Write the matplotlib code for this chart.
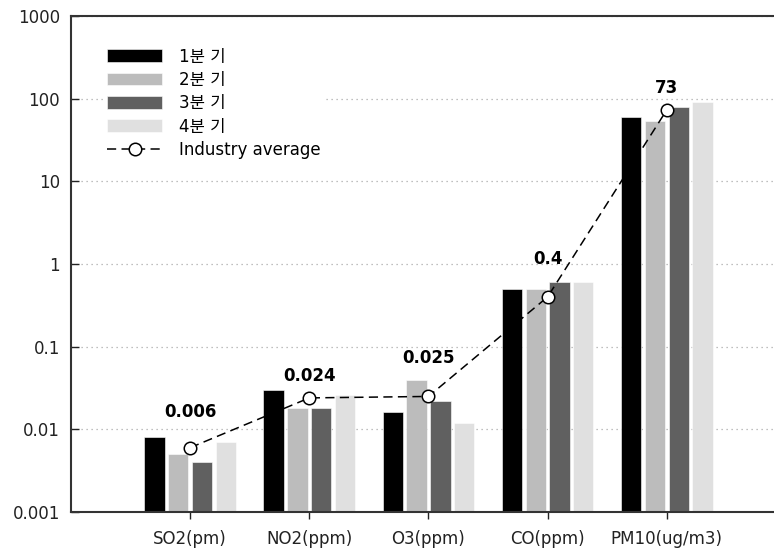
import matplotlib
matplotlib.use("Agg")
import matplotlib.pyplot as plt
import numpy as np
from matplotlib.ticker import FixedLocator, FixedFormatter, NullLocator

plt.rcParams['font.family'] = ['DejaVu Sans', 'Noto Sans CJK KR']

categories = ["SO2(pm)", "NO2(ppm)", "O3(ppm)", "CO(ppm)", "PM10(ug/m3)"]
q1 = [0.008, 0.030, 0.016, 0.5, 60]
q2 = [0.005, 0.018, 0.040, 0.5, 53]
q3 = [0.004, 0.018, 0.022, 0.6, 80]
q4 = [0.007, 0.026, 0.012, 0.6, 90]
industry_avg = [0.006, 0.024, 0.025, 0.4, 73]
avg_labels = ["0.006", "0.024", "0.025", "0.4", "73"]
series_names = ["1분 기", "2분 기", "3분 기", "4분 기"]
y_ticks = [0.001, 0.01, 0.1, 1, 10, 100, 1000]
y_tick_labels = ["0.001", "0.01", "0.1", "1", "10", "100", "1000"]

colors = ["#000000", "#bcbcbc", "#606060", "#e0e0e0"]
label_offsets = [22, 12, 24, 24, 12]  # baseline offsets in points

fig = plt.figure(figsize=(7.74, 5.52), dpi=100)
ax = fig.add_axes([71 / 774, 40 / 552, 703 / 774, 496 / 552])

x = np.arange(len(categories))
pitch = 0.2
width = 0.17
handles = []
for i, (vals, name, c) in enumerate(zip([q1, q2, q3, q4], series_names, colors)):
    b = ax.bar(x + (i - 1.5) * pitch, vals, width=width, color=c, label=name,
               edgecolor="white", linewidth=0.4, zorder=2)
    handles.append(b)

line, = ax.plot(x, industry_avg, linestyle=(0, (6, 3.5)), color="black",
                linewidth=1.1, marker="o", markersize=9,
                markerfacecolor="white", markeredgecolor="black",
                markeredgewidth=1.1, label="Industry average", zorder=3)
handles.append(line)

for xi, v, lab, off in zip(x, industry_avg, avg_labels, label_offsets):
    ax.annotate(lab, (xi, v), xytext=(0, off), textcoords="offset points",
                ha="center", va="baseline", fontsize=12, fontweight="bold")

ax.set_yscale("log")
ax.set_ylim(0.001, 1000)
ax.set_xlim(-1, 4.9)
ax.yaxis.set_major_locator(FixedLocator(y_ticks))
ax.yaxis.set_major_formatter(FixedFormatter(y_tick_labels))
ax.yaxis.set_minor_locator(NullLocator())
ax.set_xticks(x)
ax.set_xticklabels(categories)

ax.tick_params(axis="y", direction="in", length=6, width=1, labelsize=12,
               pad=8, colors="#222222")
ax.tick_params(axis="x", direction="out", length=5, width=1, labelsize=12,
               pad=8, colors="#222222")

ax.grid(axis="y", linestyle=(0, (1, 3)), color="#aaaaaa", linewidth=0.9)
ax.set_axisbelow(True)

for side in ["left", "bottom", "top"]:
    ax.spines[side].set_color("#333333")
    ax.spines[side].set_linewidth(1.5)
ax.spines["right"].set_visible(False)

leg = ax.legend(handles=handles, loc="upper left", bbox_to_anchor=(0.035, 0.96),
                fontsize=12, handlelength=3.3, handleheight=0.8,
                labelspacing=0.32, handletextpad=1.0, frameon=True,
                fancybox=False, borderpad=0.2)
leg.get_frame().set_edgecolor("none")
leg.get_frame().set_facecolor("white")
leg.get_frame().set_alpha(1)

fig.savefig("out.png", dpi=100)
